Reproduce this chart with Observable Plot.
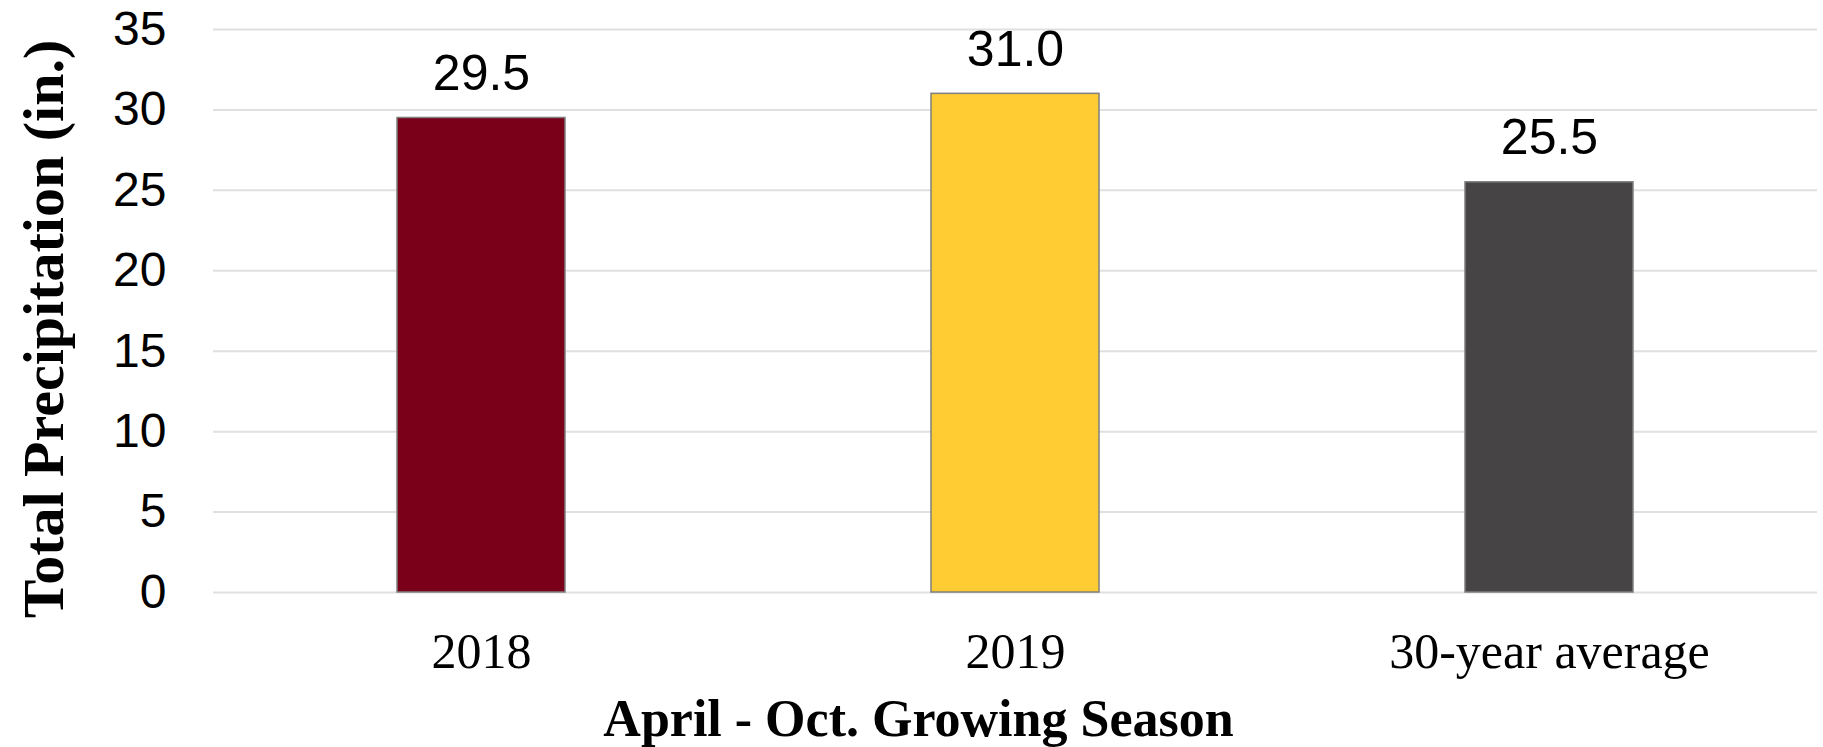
<!DOCTYPE html>
<html>
<head>
<meta charset="utf-8">
<script src="https://cdn.jsdelivr.net/npm/d3@7"></script>
<script src="https://cdn.jsdelivr.net/npm/@observablehq/plot@0.6"></script>
<style>
  html, body { margin: 0; padding: 0; background: #fff; color: #000; }
  #chart svg { display: block; }
</style>
</head>
<body>
<div id="chart"></div>
<script>
const categories = ["2018", "2019", "30-year average"];
const precipitation = [29.5, 31.0, 25.5];
const valueLabels = ["29.5", "31.0", "25.5"];
const barColors = ["#7A0019", "#FFCC33", "#464445"];
const yTicks = [0, 5, 10, 15, 20, 25, 30, 35];
const yTitle = "Total Precipitation (in.)";
const xTitle = "April - Oct. Growing Season";

const data = categories.map((c, i) => ({category: c, value: precipitation[i], label: valueLabels[i]}));

const chart = Plot.plot({
  width: 1823,
  height: 747,
  marginLeft: 213,
  marginRight: 6,
  marginTop: 29,
  marginBottom: 155,
  style: {background: "white", fontFamily: "'Liberation Sans', Arial, sans-serif", color: "#000"},
  x: {domain: categories, paddingInner: 0.686, paddingOuter: 0.343, label: null},
  y: {domain: [0, 35], ticks: yTicks, label: null},
  color: {domain: categories, range: barColors},
  marks: [
    Plot.gridY(yTicks, {stroke: "#e0e0e0", strokeOpacity: 1, strokeWidth: 2}),
    Plot.barY(data, {x: "category", y: "value", fill: "category", stroke: "#7f7f7f", strokeWidth: 1.5}),
    Plot.text(data, {x: "category", y: "value", text: "label", dy: -28, lineAnchor: "bottom", fontSize: 50, fill: "#000"}),
    Plot.axisY(yTicks, {tickSize: 0, tickPadding: 47, fontSize: 48, label: null, fill: "#000"}),
    Plot.axisX({tickSize: 0, tickPadding: 40, fontSize: 50, fontFamily: "'Liberation Serif', 'Times New Roman', serif", label: null, fill: "#000"}),
    Plot.text([yTitle], {frameAnchor: "left", textAnchor: "middle", rotate: -90, dx: -151, dy: 18, lineAnchor: "bottom", fontFamily: "'Liberation Serif', 'Times New Roman', serif", fontWeight: "bold", fontSize: 58, fill: "#000"}),
    Plot.text([xTitle], {frameAnchor: "bottom", textAnchor: "middle", dx: -97, dy: 143, lineAnchor: "bottom", fontFamily: "'Liberation Serif', 'Times New Roman', serif", fontWeight: "bold", fontSize: 52, fill: "#000"})
  ]
});
document.getElementById("chart").appendChild(chart);
</script>
</body>
</html>
